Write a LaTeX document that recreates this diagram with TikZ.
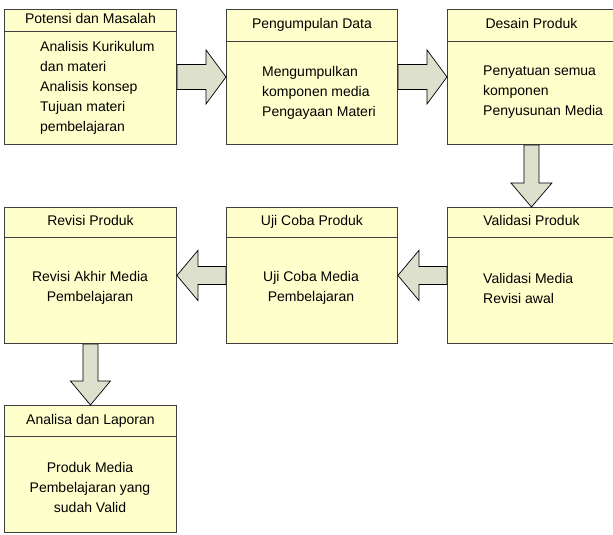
\documentclass[tikz,border=0pt]{standalone}
\usepackage{fontspec}
\setmainfont{Liberation Sans}
\usepackage{tikz}
\usetikzlibrary{calc}

\definecolor{boxfill}{RGB}{255,255,204}
\definecolor{boxline}{RGB}{64,64,64}
\definecolor{arrowfill}{RGB}{220,224,204}

\newcommand{\txtfont}{\fontsize{14}{20}\selectfont}

\tikzset{
  stage/.style 2 args={draw=boxline, fill=boxfill, line width=0.9pt, anchor=north west,
    inner sep=0pt, minimum width=#1, minimum height=#2},
  head/.style 2 args={draw=boxline, fill=boxfill, line width=0.9pt, anchor=north,
    inner sep=0pt, minimum width=#1, minimum height=#2, text height=10pt, text depth=3pt, font=\txtfont},
  body/.style={inner sep=0pt, font=\txtfont},
  barrow/.style={draw=black, fill=arrowfill, line width=0.7pt, line join=miter}
}

% block arrows: from, to, half shaft, half head, head length
\newcommand{\hblock}[5]{\draw[barrow] let \p1=(#1), \p2=(#2) in
  ({\x1},{\y1+#3}) -- ({\x2-(#5)},{\y1+#3}) -- ({\x2-(#5)},{\y1+#4}) -- ({\x2},{\y1}) --
  ({\x2-(#5)},{\y1-#4}) -- ({\x2-(#5)},{\y1-#3}) -- ({\x1},{\y1-#3}) -- cycle;}
\newcommand{\vblock}[5]{\draw[barrow] let \p1=(#1), \p2=(#2) in
  ({\x1+#3},{\y1}) -- ({\x1+#3},{\y2+#5}) -- ({\x1+#4},{\y2+#5}) -- ({\x1},{\y2}) --
  ({\x1-#4},{\y2+#5}) -- ({\x1-#3},{\y2+#5}) -- ({\x1-#3},{\y1}) -- cycle;}

\begin{document}
\begin{tikzpicture}[x=1pt, y=-1pt]
  \path[use as bounding box, fill=white] (0,0) rectangle (613,535);
  \clip (0,0) rectangle (613,535);

  \node[stage={172pt}{135pt}] (potensi) at (4,9) {};
  \node[head={172pt}{22pt}] (potensi-h) at (potensi.north) {Potensi dan Masalah};
  \node[body, align=left, anchor=west] (potensi-t) at (40,88)
    {Analisis Kurikulum\\dan materi\\Analisis konsep\\Tujuan materi\\pembelajaran};

  \node[stage={171pt}{135pt}] (data) at (226,9) {};
  \node[head={171pt}{32pt}] (data-h) at (data.north) {Pengumpulan Data};
  \node[body, align=left, anchor=west] (data-t) at (262,92.5)
    {Mengumpulkan\\komponen media\\Pengayaan Materi};

  \node[stage={168pt}{135pt}] (desain) at (447,9) {};
  \node[head={168pt}{32pt}] (desain-h) at (desain.north) {Desain Produk};
  \node[body, align=left, anchor=west] (desain-t) at (483,92.5)
    {Penyatuan semua\\komponen\\Penyusunan Media};

  \node[stage={168pt}{136pt}] (validasi) at (447,207) {};
  \node[head={168pt}{30pt}] (validasi-h) at (validasi.north) {Validasi Produk};
  \node[body, align=left, anchor=west] (validasi-t) at (483,288)
    {Validasi Media\\Revisi awal};

  \node[stage={171pt}{136pt}] (ujicoba) at (226,207) {};
  \node[head={171pt}{30pt}] (ujicoba-h) at (ujicoba.north) {Uji Coba Produk};
  \node[body, align=center] (ujicoba-t) at (311,288)
    {Uji Coba Media\\Pembelajaran};

  \node[stage={172pt}{136pt}] (revisi) at (4,207) {};
  \node[head={172pt}{30pt}] (revisi-h) at (revisi.north) {Revisi Produk};
  \node[body, align=center] (revisi-t) at (90,288)
    {Revisi Akhir Media\\Pembelajaran};

  \node[stage={172pt}{127pt}] (analisa) at (4,405) {};
  \node[head={172pt}{31pt}] (analisa-h) at (analisa.north) {Analisa dan Laporan};
  \node[body, align=center] (analisa-t) at (90,487)
    {Produk Media\\Pembelajaran yang\\sudah Valid};

  \hblock{potensi.east}{data.west}{12.5pt}{27pt}{20pt}
  \hblock{data.east}{desain.west}{12.5pt}{27pt}{20pt}
  \vblock{desain.south}{validasi.north}{7.5pt}{20.5pt}{24pt}
  \hblock{validasi.west}{ujicoba.east}{9pt}{25pt}{-21pt}
  \hblock{ujicoba.west}{revisi.east}{9pt}{25pt}{-21pt}
  \vblock{revisi.south}{analisa.north}{7.5pt}{20pt}{24pt}
\end{tikzpicture}
\end{document}
